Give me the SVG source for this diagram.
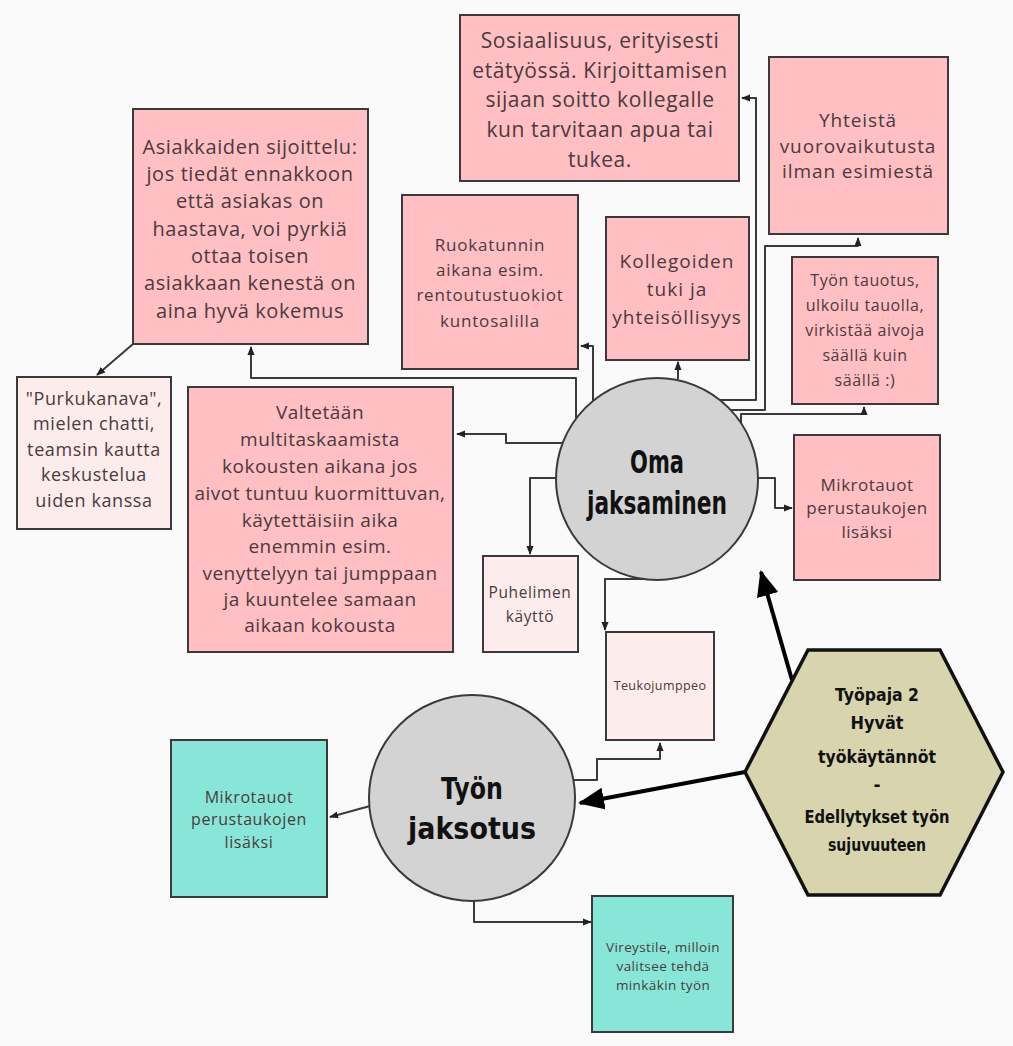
<svg xmlns="http://www.w3.org/2000/svg" width="1013" height="1046" viewBox="0 0 1013 1046">
<style>
.bx{stroke:#3a3a3a;stroke-width:2}
.pk{fill:#ffbfc3}
.lp{fill:#fdecec}
.tl{fill:#88e6d8}
.t{font-family:"Open Sans","Liberation Sans",sans-serif;fill:#4a3b3d;text-anchor:middle}
.h{font-family:"DejaVu Sans","Liberation Sans",sans-serif;font-weight:bold;fill:#111;text-anchor:middle}
.c{fill:none;stroke:#3a3a3a;stroke-width:2;stroke-linejoin:round;marker-end:url(#a)}
.k{fill:none;stroke:#000;stroke-width:4;marker-end:url(#b)}
</style>
<defs>
<marker id="a" viewBox="0 0 10 10" refX="9" refY="5" markerWidth="9" markerHeight="9" markerUnits="userSpaceOnUse" orient="auto"><path d="M0,1 L10,5 L0,9 z" fill="#222"/></marker>
<marker id="b" viewBox="0 0 26 22" refX="24" refY="11" markerWidth="26" markerHeight="22" markerUnits="userSpaceOnUse" orient="auto"><path d="M0,0 L26,11 L0,22 z" fill="#000"/></marker>
</defs>
<rect x="0" y="0" width="1013" height="1046" fill="#fafafa"/>

<g id="connectors">
<path class="c" d="M720 400 H756 V98 H742"/>
<path class="c" d="M729 410 H765 V246 H858 V238"/>
<path class="c" d="M741 423 V414 H864 V407"/>
<path class="c" d="M678 379 V362"/>
<path class="c" d="M593 402 V346 H581"/>
<path class="c" d="M576 420 V378 H251 V347"/>
<path class="c" d="M563 443 H506 V434 H457"/>
<path class="c" d="M557 478 H530 V554"/>
<path class="c" d="M758 478 H775 V508 H792"/>
<path class="c" d="M646 579 H605 V630"/>
<path class="c" d="M573 780 H597 V759 H660 V743"/>
<path class="c" d="M370 806 L330 817"/>
<path class="c" d="M474 901 V922 H591"/>
<path class="c" d="M133 344 L97 375"/>
<path class="k" d="M792 680 L761 572"/>
<path class="k" d="M745 772 L580 803"/>
</g>

<g id="n-sosiaalisuus">
<rect class="bx pk" x="460" y="15" width="279" height="166"/>
<text class="t" font-size="21" letter-spacing="0.6"><tspan x="600" y="48">Sosiaalisuus, erityisesti</tspan><tspan x="600" y="78">etätyössä. Kirjoittamisen</tspan><tspan x="600" y="107">sijaan soitto kollegalle</tspan><tspan x="600" y="137">kun tarvitaan apua tai</tspan><tspan x="600" y="167">tukea.</tspan></text>
</g>
<g id="n-yhteista">
<rect class="bx pk" x="769" y="57" width="179" height="177"/>
<text class="t" font-size="19" letter-spacing="0.9"><tspan x="858" y="127">Yhteistä</tspan><tspan x="858" y="153">vuorovaikutusta</tspan><tspan x="858" y="178">ilman esimiestä</tspan></text>
</g>
<g id="n-asiakkaiden">
<rect class="bx pk" x="133" y="109" width="235" height="235"/>
<text class="t" font-size="20" letter-spacing="0.6"><tspan x="250" y="154">Asiakkaiden sijoittelu:</tspan><tspan x="250" y="181">jos tiedät ennakkoon</tspan><tspan x="250" y="208">että asiakas on</tspan><tspan x="250" y="236">haastava, voi pyrkiä</tspan><tspan x="250" y="263">ottaa toisen</tspan><tspan x="250" y="290">asiakkaan kenestä on</tspan><tspan x="250" y="318">aina hyvä kokemus</tspan></text>
</g>
<g id="n-ruokatunnin">
<rect class="bx pk" x="402" y="195" width="176" height="174"/>
<text class="t" font-size="17" letter-spacing="0.8"><tspan x="490" y="251">Ruokatunnin</tspan><tspan x="490" y="276">aikana esim.</tspan><tspan x="490" y="301">rentoutustuokiot</tspan><tspan x="490" y="327">kuntosalilla</tspan></text>
</g>
<g id="n-kollegoiden">
<rect class="bx pk" x="606" y="217" width="143" height="143"/>
<text class="t" font-size="19" letter-spacing="1"><tspan x="677" y="268">Kollegoiden</tspan><tspan x="677" y="296">tuki ja</tspan><tspan x="677" y="324">yhteisöllisyys</tspan></text>
</g>
<g id="n-tauotus">
<rect class="bx pk" x="792" y="257" width="146" height="147"/>
<text class="t" font-size="16" letter-spacing="0.6"><tspan x="865" y="286">Työn tauotus,</tspan><tspan x="865" y="311">ulkoilu tauolla,</tspan><tspan x="865" y="336">virkistää aivoja</tspan><tspan x="865" y="361">säällä kuin</tspan><tspan x="865" y="386">säällä :)</tspan></text>
</g>
<g id="n-purkukanava">
<rect class="bx lp" x="17" y="377" width="154" height="152"/>
<text class="t" font-size="18" letter-spacing="0.6"><tspan x="94" y="405">"Purkukanava",</tspan><tspan x="94" y="430">mielen chatti,</tspan><tspan x="94" y="456">teamsin kautta</tspan><tspan x="94" y="481">keskustelua</tspan><tspan x="94" y="507">uiden kanssa</tspan></text>
</g>
<g id="n-valtetaan">
<rect class="bx pk" x="188" y="387" width="265" height="265"/>
<text class="t" font-size="19" letter-spacing="0.5"><tspan x="320" y="419">Valtetään</tspan><tspan x="320" y="446">multitaskaamista</tspan><tspan x="320" y="473">kokousten aikana jos</tspan><tspan x="320" y="500">aivot tuntuu kuormittuvan,</tspan><tspan x="320" y="527">käytettäisiin aika</tspan><tspan x="320" y="553">enemmin esim.</tspan><tspan x="320" y="580">venyttelyyn tai jumppaan</tspan><tspan x="320" y="606">ja kuuntelee samaan</tspan><tspan x="320" y="632">aikaan kokousta</tspan></text>
</g>
<g id="n-oma">
<circle cx="657" cy="479" r="101" fill="#d3d3d3" stroke="#3a3a3a" stroke-width="2"/>
<text class="h" font-size="32"><tspan x="657" y="473" textLength="54" lengthAdjust="spacingAndGlyphs">Oma</tspan><tspan x="657" y="514" textLength="140" lengthAdjust="spacingAndGlyphs">jaksaminen</tspan></text>
</g>
<g id="n-mikrotauot1">
<rect class="bx pk" x="794" y="435" width="146" height="145"/>
<text class="t" font-size="17" letter-spacing="0.5"><tspan x="867" y="491">Mikrotauot</tspan><tspan x="867" y="514">perustaukojen</tspan><tspan x="867" y="538">lisäksi</tspan></text>
</g>
<g id="n-puhelimen">
<rect class="bx lp" x="483" y="556" width="95" height="96"/>
<text class="t" font-size="15.5" letter-spacing="0.6"><tspan x="530" y="598">Puhelimen</tspan><tspan x="530" y="622">käyttö</tspan></text>
</g>
<g id="n-teukojumppeo">
<rect class="bx lp" x="606" y="632" width="108" height="108"/>
<text class="t" font-size="12.5" letter-spacing="0.4" x="660" y="690">Teukojumppeo</text>
</g>
<g id="n-tyopaja">
<polygon points="745,772 808,650 940,650 1003,772 940,895 808,895" fill="#d8d5ae" stroke="#111" stroke-width="3.5"/>
<text class="h" font-size="17"><tspan x="877" y="701" textLength="84" lengthAdjust="spacingAndGlyphs">Työpaja 2</tspan><tspan x="877" y="729" textLength="53" lengthAdjust="spacingAndGlyphs">Hyvät</tspan><tspan x="877" y="763" textLength="118" lengthAdjust="spacingAndGlyphs">työkäytännöt</tspan><tspan x="877" y="791">-</tspan><tspan x="877" y="823" textLength="145" lengthAdjust="spacingAndGlyphs">Edellytykset työn</tspan><tspan x="877" y="851" textLength="98" lengthAdjust="spacingAndGlyphs">sujuvuuteen</tspan></text>
</g>
<g id="n-jaksotus">
<circle cx="472" cy="798" r="103" fill="#d3d3d3" stroke="#3a3a3a" stroke-width="2"/>
<text class="h" font-size="31"><tspan x="472" y="799" textLength="62" lengthAdjust="spacingAndGlyphs">Työn</tspan><tspan x="472" y="839" textLength="128" lengthAdjust="spacingAndGlyphs">jaksotus</tspan></text>
</g>
<g id="n-mikrotauot2">
<rect class="bx tl" x="171" y="740" width="156" height="157"/>
<text class="t" font-size="16" letter-spacing="0.6"><tspan x="249" y="803">Mikrotauot</tspan><tspan x="249" y="825">perustaukojen</tspan><tspan x="249" y="848">lisäksi</tspan></text>
</g>
<g id="n-vireystile">
<rect class="bx tl" x="592" y="896" width="141" height="136"/>
<text class="t" font-size="13.5" letter-spacing="0.4"><tspan x="663" y="952">Vireystile, milloin</tspan><tspan x="663" y="971">valitsee tehdä</tspan><tspan x="663" y="990">minkäkin työn</tspan></text>
</g>
</svg>
